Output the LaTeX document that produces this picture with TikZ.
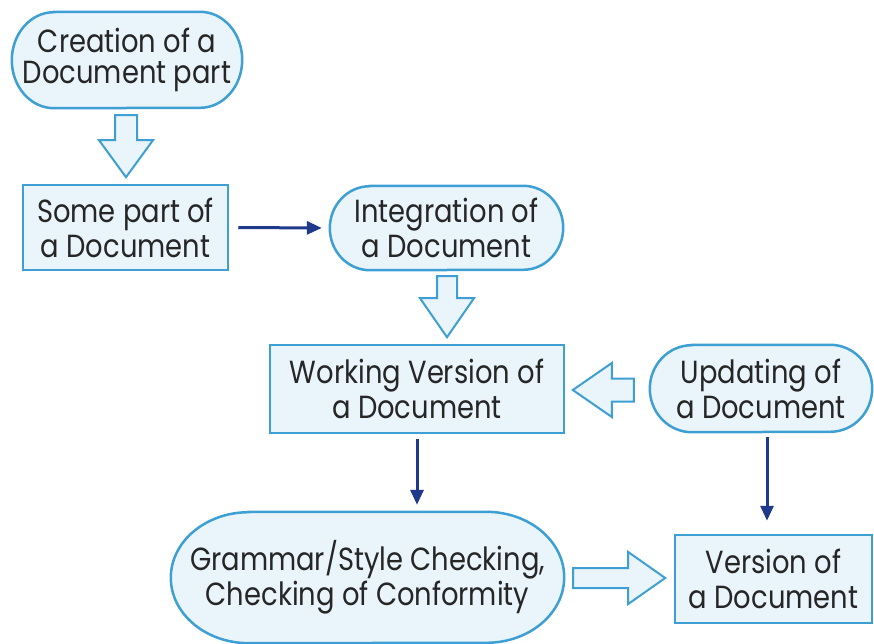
\documentclass[tikz,border=0pt]{standalone}
\usepackage{fontspec}
\setmainfont{Poppins}[FakeStretch=0.855]
\usetikzlibrary{arrows.meta,calc,backgrounds}
\definecolor{bord}{HTML}{3D9FD3}
\definecolor{fillc}{HTML}{E9F4FB}
\definecolor{navy}{HTML}{1F3A8A}
\definecolor{txt}{HTML}{262626}
\newcommand\stadout[3]{%
  \begin{scope}[on background layer]
    \path[outl] ([xshift=#2pt]#1.north west) -- ([xshift=-#2pt]#1.north east)
      arc[start angle=90,end angle=-90,x radius=#2,y radius=#3]
      -- ([xshift=#2pt]#1.south west)
      arc[start angle=270,end angle=90,x radius=#2,y radius=#3] -- cycle;
  \end{scope}}
\begin{document}
\begin{tikzpicture}[x=1pt,y=1pt,
  lbl/.style={inner sep=0pt, align=center, text=txt, font=\fontsize{32}{35}\selectfont},
  box/.style={lbl, draw=bord, fill=fillc, line width=2.5pt},
  outl/.style={draw=bord, fill=fillc, line width=2.5pt},
  hollow/.style={draw=bord, fill=fillc, line width=2pt, line join=miter},
  link/.style={draw=navy, line width=3pt, -{Triangle[length=15pt,width=13pt]}},
  pics/harrow/.style n args={4}{code={%
    \path[hollow] (0,-#3) -- ({#1-#2},-#3) -- ({#1-#2},-#4) -- (#1,0)
      -- ({#1-#2},#4) -- ({#1-#2},#3) -- (0,#3) -- cycle;}}
]
\useasboundingbox (0,0) rectangle (874,-644);
% nodes
\node[lbl, font=\fontsize{32}{31}\selectfont, minimum width=230pt, minimum height=96pt] (cre) at (127,-60) {Creation of a\\Document part};
\node[box, minimum width=205pt, minimum height=85pt] (some) at (125.5,-227.5) {Some part of\\a Document};
\node[lbl, minimum width=233pt, minimum height=84pt] (integ) at (446.5,-228) {Integration of\\a Document};
\node[box, minimum width=294pt, minimum height=88pt] (work) at (417,-389) {Working Version of\\a Document};
\node[lbl, minimum width=222pt, minimum height=87pt] (upd) at (761,-388.5) {Updating of\\a Document};
\node[lbl, minimum width=393pt, minimum height=131pt] (gram) at (367.5,-577.5) {Grammar/Style Checking,\\Checking of Conformity};
\node[box, minimum width=197pt, minimum height=88pt] (ver) at (773.5,-579) {Version of\\a Document};
% stadium outlines
\stadout{cre}{42}{48}
\stadout{integ}{40}{42}
\stadout{upd}{42}{43.5}
\stadout{gram}{78}{65.5}
% hollow arrows
\pic[rotate=-90] at ($(cre.south)+(-1,-7)$) {harrow={62}{37}{11}{27}};
\pic[rotate=-90] at ($(integ.south)+(0.5,-6)$) {harrow={61}{39}{10}{27}};
\pic[rotate=180] at ($(upd.west)+(-16,-1.5)$) {harrow={61}{39}{11.5}{27}};
\pic at ($(gram.east)+(9,-0.5)$) {harrow={92}{37}{10}{26}};
% dark connectors
\draw[link, shorten <=9pt, shorten >=8pt] (some.east) -- (integ.west);
\draw[link, shorten <=5pt, shorten >=7pt] (work.south) -- (work.south |- gram.north);
\coordinate (vx) at ($(upd.south)+(6,0)$);
\draw[link, shorten <=5pt, shorten >=13pt] (vx) -- (vx |- ver.north);
\end{tikzpicture}
\end{document}
